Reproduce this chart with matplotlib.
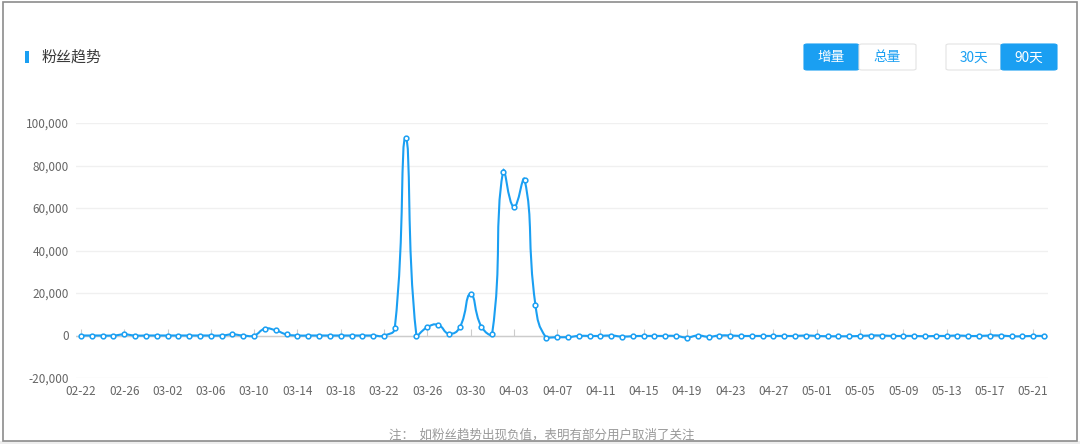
#External imports
import numpy as np
import pandas as pd
import matplotlib
matplotlib.use('Agg')
import matplotlib.pyplot as plt
from matplotlib.path import Path
from matplotlib.patches import PathPatch, FancyBboxPatch, Rectangle

#Data
DATES = pd.date_range('2019-02-22', '2019-05-22').strftime('%m-%d').tolist()
FANS = [
    0, 0, 0, 0, 500, 0, 0, 0, 0, 0,
    0, 0, 0, 0, 500, 0, 0, 3200, 2400, 500,
    0, 0, 0, 0, 0, 0, 0, 0, 0, 3600,
    93000, -100, 3900, 5000, 900, 3800, 19500, 4200, 900, 77000,
    60500, 73200, 14300, -1100, -800, -800, -200, -200, -200, 0,
    -500, -300, -200, -200, -200, -200, -950, 0, -600, 0,
    0, -200, -200, -200, -200, -200, -200, 0, -200, -350,
    -350, -350, -200, 0, 0, -200, -200, -200, -350, -200,
    -200, 0, -200, -200, 0, 0, -350, -350, -200, -200,
]
Y_TICKS = [-20000, 0, 20000, 40000, 60000, 80000, 100000]
TITLE = '粉丝趋势'
NOTE = '注：  如粉丝趋势出现负值，表明有部分用户取消了关注'

#Constants
W, H = 1080, 444
BLUE = '#1a9ff2'
plt.rcParams['font.family'] = ['Noto Sans CJK SC', 'DejaVu Sans']


def fx(px):
    return px / W


def fy(py):
    return 1 - py / H


def smooth_path(ax, xs, ys, smooth=0.5):
    """Bezier curve through the points, echarts style smoothing"""
    pts = ax.transData.transform(np.column_stack([xs, ys]))
    n = len(pts)
    lo, hi = pts.min(axis=0), pts.max(axis=0)
    before, after = [], []
    for i in range(n):
        prev = pts[max(i - 1, 0)]
        nxt = pts[min(i + 1, n - 1)]
        v = (nxt - prev) * smooth
        lp = np.linalg.norm(pts[i] - prev)
        ln = np.linalg.norm(nxt - pts[i])
        r = ln / (lp + ln) if lp + ln else 0.5
        before.append(np.clip(pts[i] - v * (1 - r), lo, hi))
        after.append(np.clip(pts[i] + v * r, lo, hi))
    verts = [pts[0]]
    codes = [Path.MOVETO]
    for i in range(n - 1):
        verts += [after[i], before[i + 1], pts[i + 1]]
        codes += [Path.CURVE4] * 3
    verts = ax.transData.inverted().transform(np.array(verts))
    return Path(verts, codes)


fig = plt.figure(figsize=(W / 100, H / 100), dpi=100)
fig.patch.set_facecolor('white')

# outer frame
fig.add_artist(Rectangle((0, 0), 1, fy(441), transform=fig.transFigure,
                         facecolor='#eeeeee', edgecolor='none', zorder=-2))
fig.add_artist(Rectangle((fx(2.5), fy(440.5)), fx(1074.5), fy(2.5) - fy(440.5),
                         transform=fig.transFigure, facecolor='white',
                         edgecolor='#8c8c8c', lw=1.2, zorder=-1))

ax = fig.add_axes([fx(76), fy(378), fx(1048 - 76), fy(123) - fy(378)])
x = np.arange(len(FANS))
per_day = (1044 - 81) / (len(FANS) - 1)
ax.set_xlim(-5 / per_day, len(FANS) - 1 + 4 / per_day)
ax.set_ylim(Y_TICKS[0], Y_TICKS[-1])

for s in ax.spines.values():
    s.set_visible(False)
ax.set_yticks(Y_TICKS)
ax.set_yticklabels([f'{v:,}' for v in Y_TICKS])
ax.yaxis.grid(True, color='#f0f0f0', lw=1)
ax.set_axisbelow(True)
tick_pos = x[::4]
ax.set_xticks(tick_pos)
ax.set_xticklabels([DATES[i] for i in tick_pos])
ax.tick_params(axis='both', length=0, labelsize=8.5, labelcolor='#666666')
ax.tick_params(axis='x', pad=5)
ax.tick_params(axis='y', pad=5)

# zero axis line with small ticks
ax.axhline(0, color='#cccccc', lw=1, zorder=1)
ax.plot(tick_pos, np.zeros(len(tick_pos)), linestyle='none', marker=2,
        ms=5, mew=0.8, color='#cccccc', zorder=1)

ax.add_patch(PathPatch(smooth_path(ax, x, FANS), facecolor='none',
                       edgecolor=BLUE, lw=1.5, zorder=3))
ax.plot(x, FANS, linestyle='none', marker='o', ms=3.4, mfc='white',
        mec=BLUE, mew=1.1, zorder=4)

# title
fig.add_artist(Rectangle((fx(25), fy(63)), fx(4), fy(51) - fy(63),
                         transform=fig.transFigure, facecolor=BLUE, edgecolor='none'))
fig.text(fx(42), fy(57.5), TITLE, fontsize=10.8, color='#3a3a3a', va='center', ha='left')

# toggle buttons
buttons = [('增量', 804, 859, True), ('总量', 859, 916, False),
           ('30天', 946, 1001, False), ('90天', 1001, 1057, True)]
for label, x0, x1, active in buttons:
    fig.add_artist(FancyBboxPatch((fx(x0), fy(70)), fx(x1 - x0), fy(44) - fy(70),
                                  boxstyle='round,pad=0,rounding_size=0.003',
                                  transform=fig.transFigure,
                                  facecolor=BLUE if active else 'white',
                                  edgecolor=BLUE if active else '#e3e3e3', lw=0.8))
    fig.text(fx((x0 + x1) / 2), fy(57.5), label, fontsize=9.8,
             color='white' if active else BLUE, ha='center', va='center')

fig.text(fx(542), fy(435), NOTE, fontsize=9, color='#999999', ha='center', va='center')

fig.savefig('out.png', dpi=100)
